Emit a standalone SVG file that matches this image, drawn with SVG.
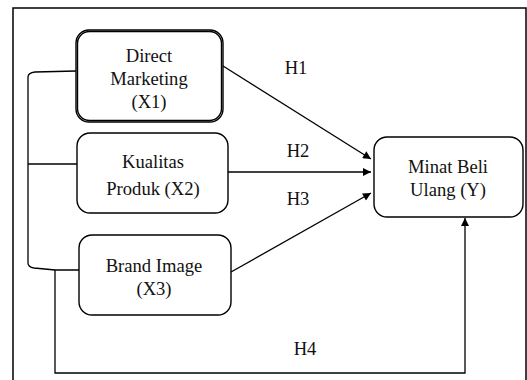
<svg xmlns="http://www.w3.org/2000/svg" width="527" height="380" viewBox="0 0 527 380">
  <style>
    .node rect { fill: #fff; stroke: #000; stroke-width: 1.4; }
    text { font-family: "Liberation Serif", "Times New Roman", "DejaVu Serif", serif; font-size: 18.6px; fill: #111; text-anchor: middle; }
    .edge { fill: none; stroke: #000; stroke-width: 1.3; }
  </style>
  <defs>
    <marker id="arrow" viewBox="0 0 10 10" refX="10" refY="5" markerWidth="9" markerHeight="8" markerUnits="userSpaceOnUse" orient="auto">
      <path d="M0,0 L10,5 L0,10 Z" fill="#000"/>
    </marker>
  </defs>

  <rect width="527" height="380" fill="#fff"/>
  <!-- frame -->
  <path d="M13,380 L13,8 L526,8 L526,380" fill="none" stroke="#000" stroke-width="1.5"/>

  <g id="connectors">
    <!-- bracket joining the three predictors -->
    <path class="edge" d="M76,71 L35,72 Q28,73 28,77 L28,263 Q28,267 34,268 Q45,269 55,270 L79,270"/>
    <path class="edge" d="M28,164 L77,164"/>
    <path class="edge" d="M223,66 L371,159" marker-end="url(#arrow)"/>
    <path class="edge" d="M228,172 L371,172" marker-end="url(#arrow)"/>
    <path class="edge" d="M231,272 L371,193" marker-end="url(#arrow)"/>
    <path class="edge" d="M55,270 L55,373 L465,373 L465,218" marker-end="url(#arrow)"/>
    <text x="296" y="74">H1</text>
    <text x="298" y="157">H2</text>
    <text x="298" y="205">H3</text>
    <text x="305" y="355">H4</text>
  </g>

  <g id="x1" class="node">
    <rect x="76" y="30" width="147" height="92" rx="13" stroke-width="2.4"/>
    <rect x="77.5" y="31.5" width="144" height="89" rx="12" stroke="#fff" stroke-width="0.6" fill="none"/>
    <text x="149" y="62">Direct</text>
    <text x="149" y="85">Marketing</text>
    <text x="149" y="108">(X1)</text>
  </g>

  <g id="x2" class="node">
    <rect x="77" y="133" width="151" height="80" rx="13" stroke-width="2"/>
    <text x="153" y="168">Kualitas</text>
    <text x="153" y="195">Produk (X2)</text>
  </g>

  <g id="x3" class="node">
    <rect x="79" y="235" width="152" height="80" rx="13"/>
    <text x="154" y="272">Brand Image</text>
    <text x="154" y="295">(X3)</text>
  </g>

  <g id="y" class="node">
    <rect x="374" y="137" width="149" height="80" rx="13"/>
    <text x="448" y="173">Minat Beli</text>
    <text x="448" y="196">Ulang (Y)</text>
  </g>
</svg>
